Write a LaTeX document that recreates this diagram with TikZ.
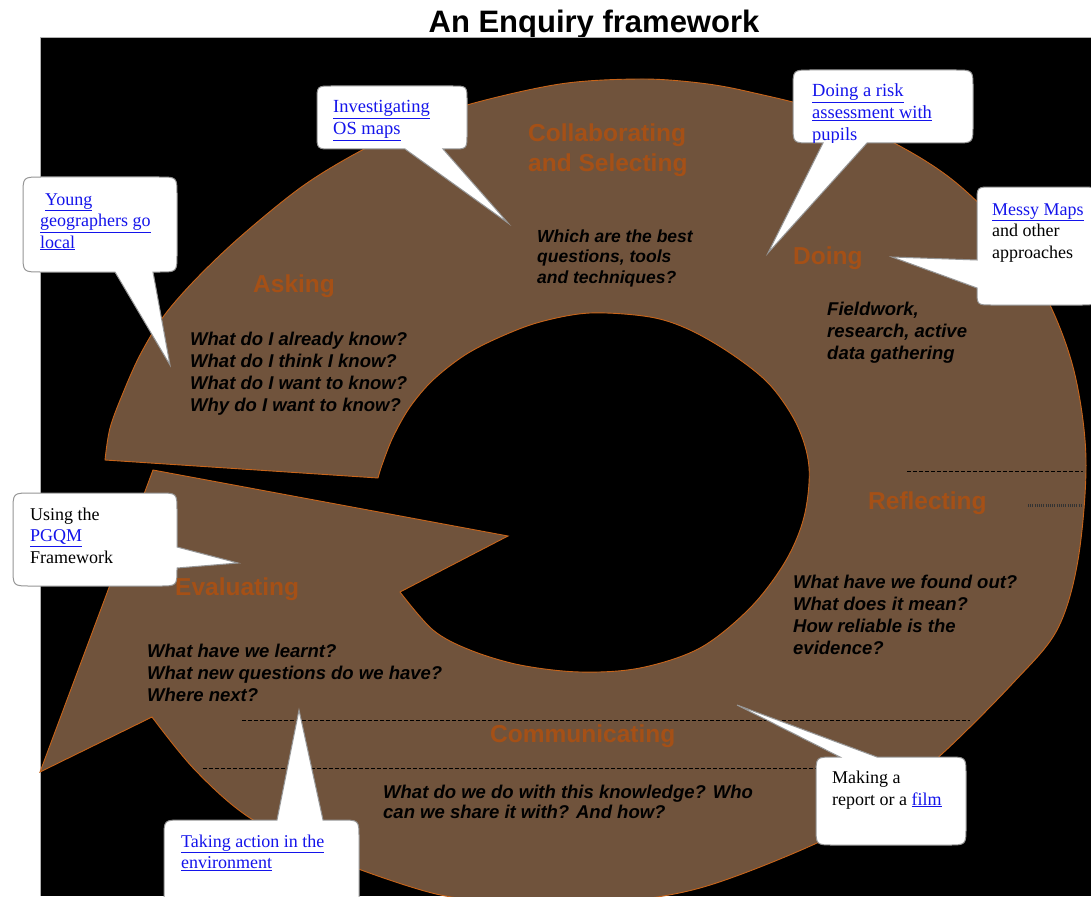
\documentclass[tikz,border=0pt]{standalone}
\usepackage{fontspec}
\setmainfont{Liberation Serif}
\setsansfont{Liberation Sans}
\definecolor{bandfill}{RGB}{112,83,60}
\definecolor{bandedge}{RGB}{200,100,25}
\definecolor{headcol}{RGB}{165,80,22}
\definecolor{linkblue}{RGB}{20,20,235}
\definecolor{bubedge}{RGB}{150,150,150}
\newcommand\LL[1]{\hbox{#1}}
\newcommand\lk[1]{\textcolor{linkblue}{\underline{#1}}}
\begin{document}
\begin{tikzpicture}[x=1pt,y=-1pt,
  heading/.style={anchor=base west, inner sep=0pt, text=headcol, font=\fontsize{24.5}{30}\sffamily\bfseries},
  question/.style={anchor=base west, inner sep=0pt, text=black, font=\fontsize{18.5}{22}\sffamily\bfseries\itshape},
  bubtext/.style={anchor=base west, inner sep=0pt, text=black, font=\fontsize{18}{21.5}\rmfamily},
  bubble/.style={fill=white, draw=bubedge, line width=1pt},
  artline/.style={black, line width=0.8pt, dash pattern=on 4pt off 2pt},
]
\useasboundingbox (0,0) rectangle (1091,896);
\fill[white] (0,0) rectangle (1091,896);
% title
\node[anchor=base, inner sep=0pt, font=\fontsize{31}{36}\sffamily\bfseries] (title) at (594,33) {An Enquiry framework};
% black panel
\fill[black] (40,37) rectangle (1091,896);
\draw[gray!60, line width=0.8pt] (1091,37) -- (40,37) -- (40,896);

% circular arrow band
\path[fill=bandfill, draw=bandedge, line width=0.9pt]
 (105,460) -- plot[smooth, tension=0.55] coordinates {
  (105,460) (110,428) (123,393) (140,355) (163,317) (195,280) (240,237) (300,188)
  (353,155) (410,127) (467,105) (560,84) (640,79) (700,83) (750,92) (830,113)
  (907,150) (960,186) (1010,238) (1050,305) (1075,375) (1086,460) (1078,560)
  (1057,630) (1013,683) (943,753) (880,805) (817,843) (700,888) (600,903)
  (500,901) (432,893) (330,858) (250,818) (195,770) (152,717)}
 -- (40,772) -- (153,470) -- (508,536) -- (400,592)
 -- plot[smooth, tension=0.55] coordinates {
  (400,592) (433,630) (470,650) (520,665) (580,672) (640,668) (700,648)
  (750,608) (785,562) (804,517) (809,467) (797,425) (770,385) (733,355)
  (690,330) (650,317) (590,313) (540,322) (500,337) (465,355) (433,380)
  (410,407) (393,437) (382,465) (378,478)}
 -- cycle;

% faint dithering lines
\draw[artline] (242,720) -- (970,720);
\draw[artline] (203,768) -- (830,768);
\draw[artline] (907,471) -- (1083,471);
\draw[black!80, line width=3pt, dash pattern=on 1pt off 1.2pt] (1028,505) -- (1081,505);

% headings
\node[heading] (hAsk) at (253,292) {Asking};
\node[heading] (hCol) at (528,142) {\vtop{\LL{Collaborating}\LL{and Selecting}}};
\node[heading] (hDo) at (793,264) {Doing};
\node[heading] (hRef) at (868,509) {Reflecting};
\node[heading] (hEval) at (175,595) {Evaluating};
\node[heading] (hCom) at (490,742) {Communicating};

% questions
\node[question] (qAsk) at (190,345) {\vtop{\LL{What do I already know?}\LL{What do I think I know?}\LL{What do I want to know?}\LL{Why do I want to know?}}};
\node[question, font=\fontsize{17.5}{20.5}\sffamily\bfseries\itshape] (qCol) at (537,242) {\vtop{\LL{Which are the best}\LL{questions, tools}\LL{and techniques?}}};
\node[question] (qDo) at (827,315) {\vtop{\LL{Fieldwork,}\LL{research, active}\LL{data gathering}}};
\node[question] (qRef) at (793,588) {\vtop{\LL{What have we found out?}\LL{What does it mean?}\LL{How reliable is the}\LL{evidence?}}};
\node[question] (qEval) at (147,657) {\vtop{\LL{What have we learnt?}\LL{What new questions do we have?}\LL{Where next?}}};
\node[question, font=\fontsize{18.5}{20}\sffamily\bfseries\itshape] (qCom) at (383,798) {\vtop{\LL{What do we do with this knowledge? Who}\LL{can we share it with? And how?}}};

% callout tips
\coordinate (pYoung) at (170,365);
\coordinate (pOS) at (508,223);
\coordinate (pRisk) at (768,253);
\coordinate (pMessy) at (892,257);
\coordinate (pPGQM) at (238,563);
\coordinate (pAction) at (299,710);
\coordinate (pFilm) at (737,705);

% bubble: Young geographers
\path[bubble] (41,177) -- (159,177) .. controls (177,177) .. (177,195) -- (177,254)
  .. controls (177,272) .. (159,272) -- (153,272) -- (pYoung) -- (115,272) -- (41,272)
  .. controls (23,272) .. (23,254) -- (23,195) .. controls (23,177) .. (41,177) -- cycle;
\node[bubtext] (tYoung) at (40,205) {\vtop{\LL{\hspace*{5pt}\lk{Young}}\LL{\lk{geographers go}}\LL{\lk{local}}}};

% bubble: OS maps
\path[bubble] (332,86) -- (452,86) .. controls (467,86) .. (467,101) -- (467,134)
  .. controls (467,149) .. (452,149) -- (443,149) -- (pOS) -- (405,149) -- (332,149)
  .. controls (317,149) .. (317,134) -- (317,101) .. controls (317,86) .. (332,86) -- cycle;
\node[bubtext, font=\fontsize{18.5}{22}\rmfamily] (tOS) at (333,113) {\vtop{\LL{\lk{Investigating}}\LL{\lk{OS maps}}}};

% bubble: risk assessment
\path[bubble] (811,70) -- (955,70) .. controls (973,70) .. (973,88) -- (973,125)
  .. controls (973,143) .. (955,143) -- (867,143) -- (pRisk) -- (823,143) -- (811,143)
  .. controls (793,143) .. (793,125) -- (793,88) .. controls (793,70) .. (811,70) -- cycle;
\begin{scope}
\clip (793,70) rectangle (973,143);
\node[bubtext, font=\fontsize{18.5}{22}\rmfamily] (tRisk) at (812,97) {\vtop{\LL{\lk{Doing a risk}}\LL{\lk{assessment with}}\LL{\lk{pupils}}}};
\end{scope}

% bubble: Messy Maps
\path[bubble] (992,187) -- (1081,187) .. controls (1096,187) .. (1096,202) -- (1096,290)
  .. controls (1096,305) .. (1081,305) -- (992,305) .. controls (977,305) .. (977,290)
  -- (977,288) -- (pMessy) -- (977,260) -- (977,202) .. controls (977,187) .. (992,187) -- cycle;
\node[bubtext] (tMessy) at (992,215) {\vtop{\LL{\lk{Messy Maps}}\LL{and other}\LL{approaches}}};

% bubble: PGQM
\path[bubble] (31,493) -- (159,493) .. controls (177,493) .. (177,511) -- (177,547)
  -- (pPGQM) -- (177,568) .. controls (177,586) .. (159,586) -- (31,586)
  .. controls (13,586) .. (13,568) -- (13,511) .. controls (13,493) .. (31,493) -- cycle;
\node[bubtext] (tPGQM) at (30,520) {\vtop{\LL{Using the}\LL{\lk{PGQM}}\LL{Framework}}};

% bubble: taking action
\path[bubble] (182,820) -- (277,820) -- (pAction) -- (323,820) -- (341,820)
  .. controls (359,820) .. (359,838) -- (359,910) -- (164,910) -- (164,838)
  .. controls (164,820) .. (182,820) -- cycle;
\node[bubtext] (tAction) at (181,847) {\vtop{\LL{\lk{Taking action in the}}\LL{\lk{environment}}}};

% bubble: film
\path[bubble] (834,757) -- (840,757) -- (pFilm) -- (877,757) -- (948,757)
  .. controls (966,757) .. (966,775) -- (966,827) .. controls (966,845) .. (948,845)
  -- (834,845) .. controls (816,845) .. (816,827) -- (816,775) .. controls (816,757) .. (834,757) -- cycle;
\node[bubtext, font=\fontsize{18}{22}\rmfamily] (tFilm) at (832,783) {\vtop{\LL{Making a}\LL{report or a \lk{film}}}};
\end{tikzpicture}
\end{document}
